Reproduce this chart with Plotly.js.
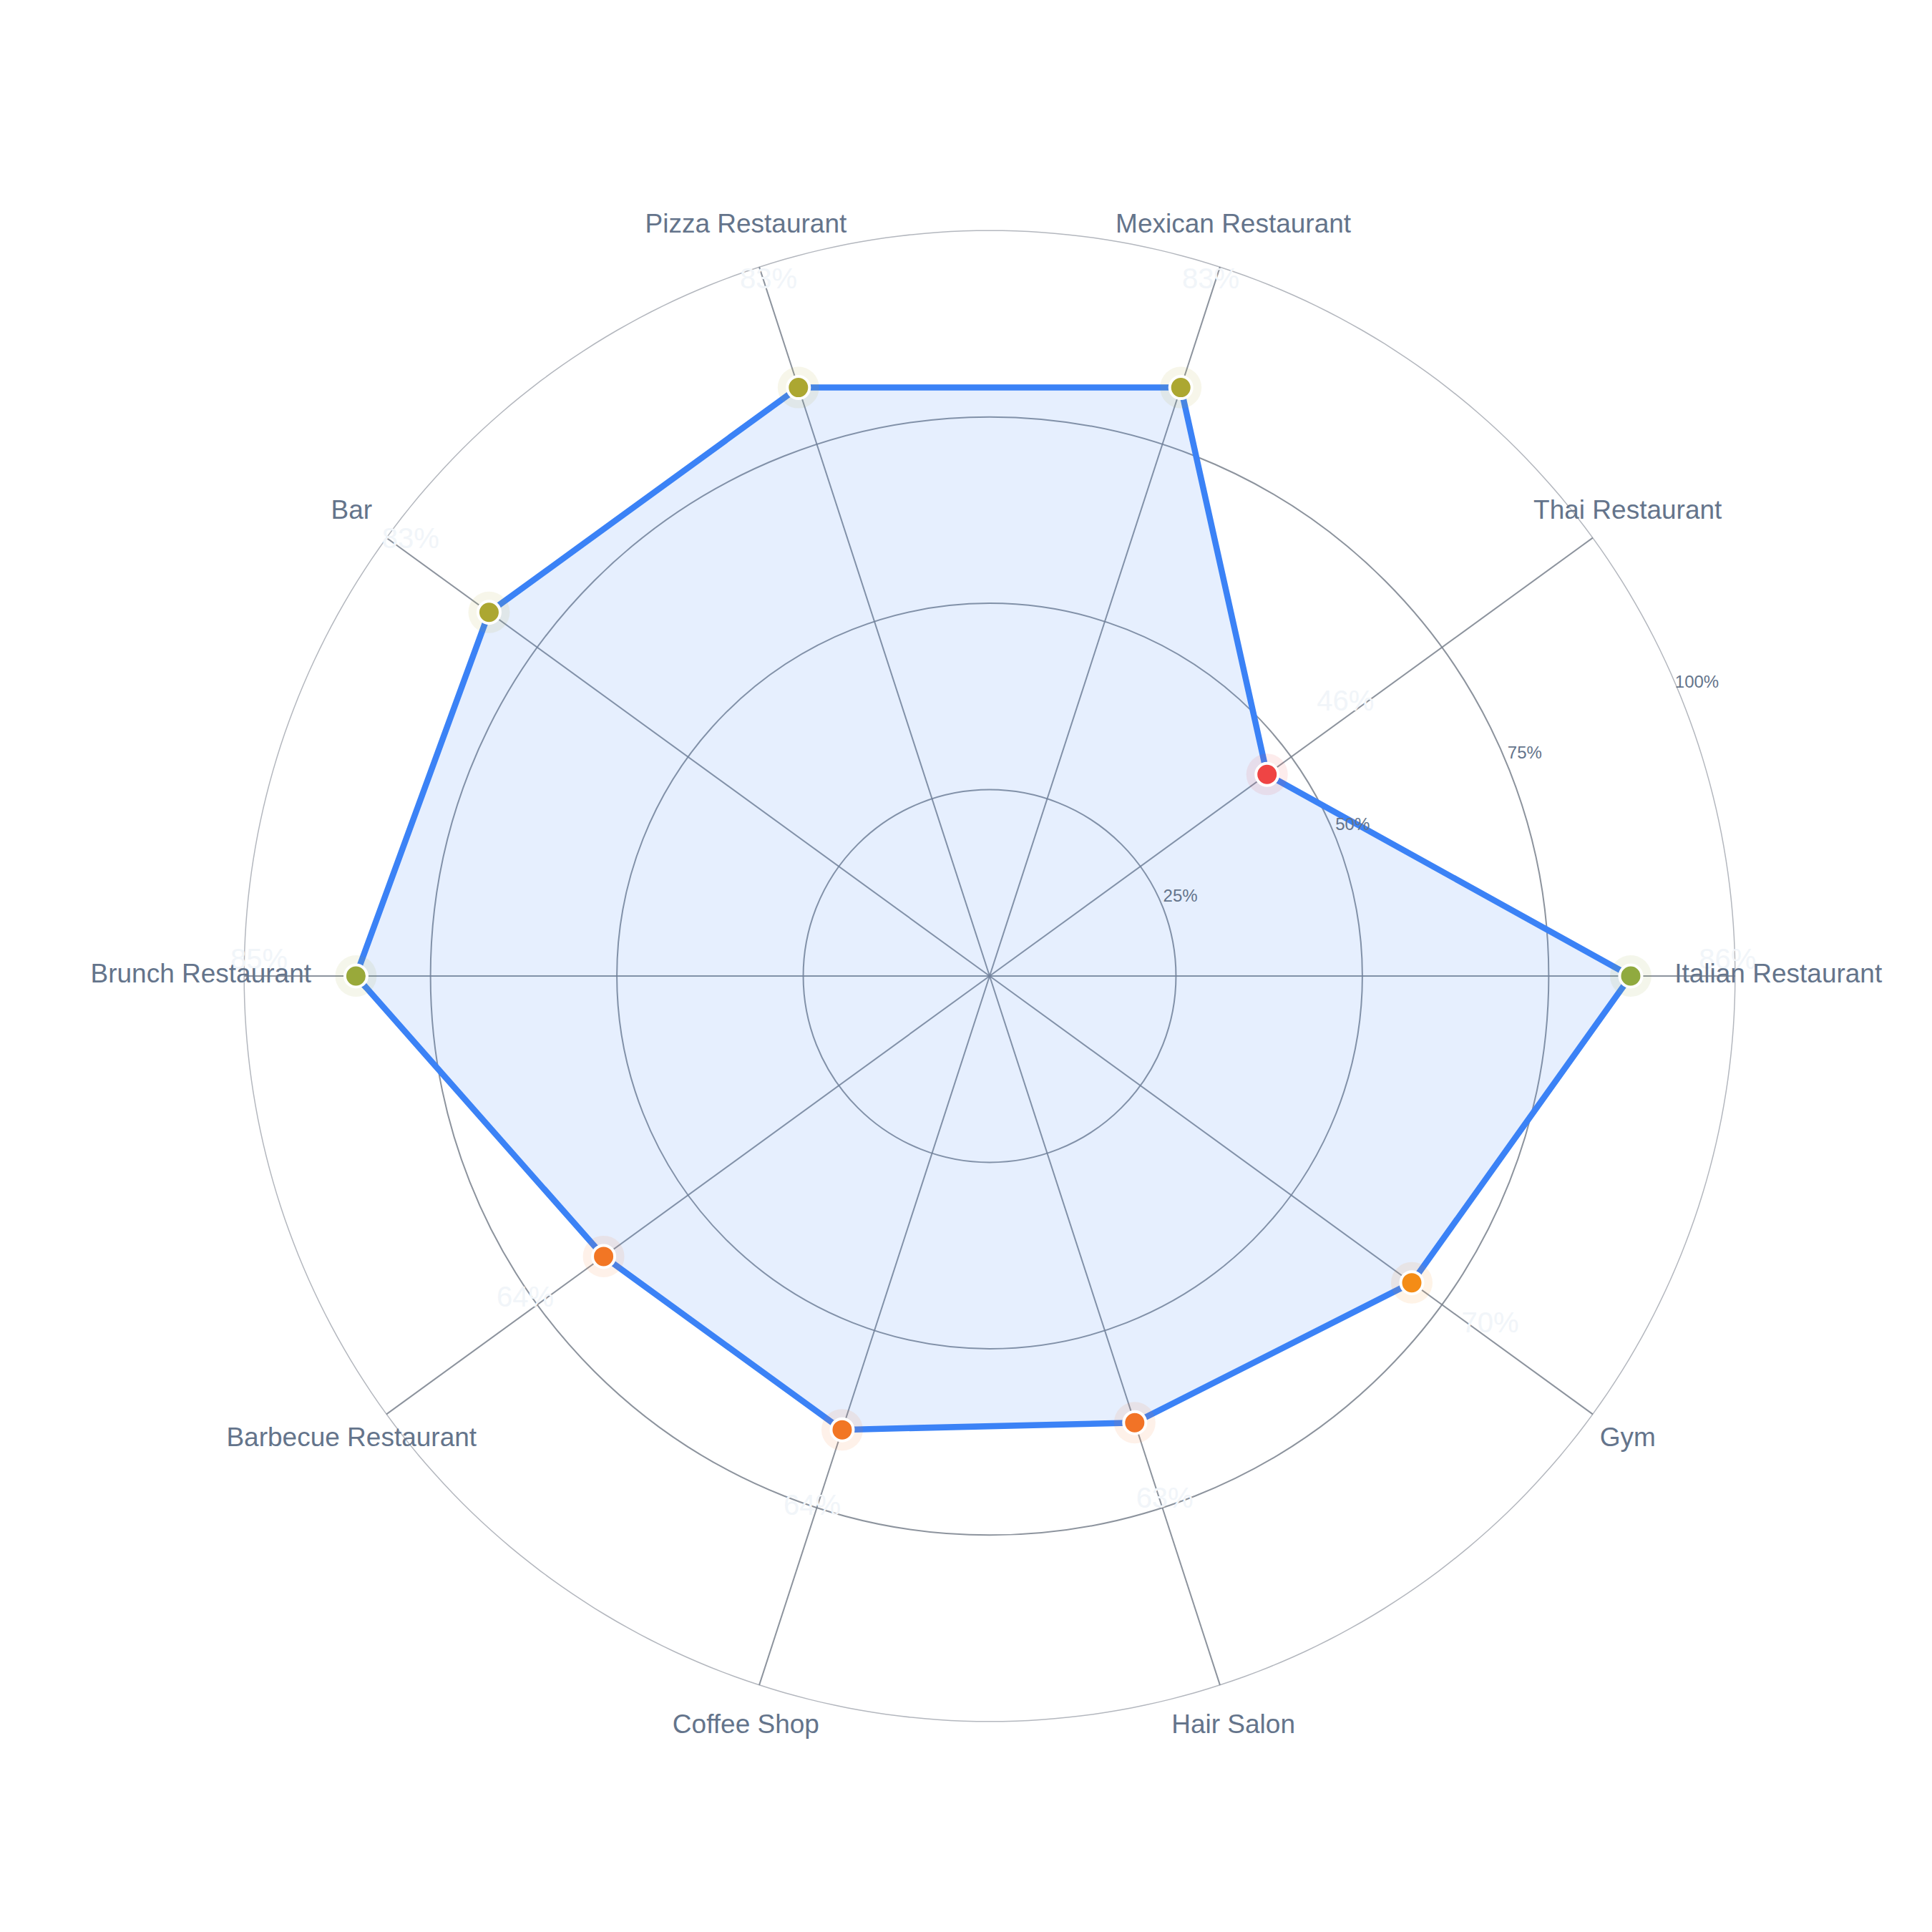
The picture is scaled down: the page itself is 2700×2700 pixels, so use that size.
<!DOCTYPE html>
<html>
<head>
<meta charset="utf-8">
<script src="https://cdn.plot.ly/plotly-3.0.1.min.js"></script>
<style>html,body{margin:0;padding:0;background:#fff;}#chart{width:2700px;height:2700px;}</style>
</head>
<body>
<div id="chart"></div>
<script>
const categories = ["Italian Restaurant","Thai Restaurant","Mexican Restaurant","Pizza Restaurant","Bar","Brunch Restaurant","Barbecue Restaurant","Coffee Shop","Hair Salon","Gym"];
const values = [86, 46, 83, 83, 83, 85, 64, 64, 63, 70];
const radialTicks = [25, 50, 75, 100];
const radialTickLabels = ["25%", "50%", "75%", "100%"];

const step = 360 / categories.length;
const theta = categories.map((c, i) => i * step);
const thetaClosed = theta.concat([theta[0]]);
const valuesClosed = values.concat([values[0]]);
const rMax = radialTicks[radialTicks.length - 1];

// grid helpers derived from the axis ticks / categories
const spokeR = [], spokeT = [];
theta.forEach(t => { spokeR.push(0, rMax, null); spokeT.push(t, t, null); });
const ringT = [], ringR = [];
for (let a = 0; a <= 360; a += 1) { ringT.push(a); ringR.push(rMax); }

const colorscale = [[0, '#ef4444'], [0.5, '#f59e0b'], [1, '#10b981']];
const FONT = '"Liberation Sans", Arial, Helvetica, sans-serif';
const GRID = 'rgba(120,128,140,0.85)';

const traces = [
  {
    type: 'scatterpolar', mode: 'lines', r: ringR, theta: ringT,
    line: {color: 'rgba(160,165,174,0.8)', width: 1.5}, hoverinfo: 'skip', showlegend: false
  },
  {
    type: 'scatterpolar', mode: 'lines', r: spokeR, theta: spokeT, connectgaps: false,
    line: {color: GRID, width: 2}, hoverinfo: 'skip', showlegend: false
  },
  {
    type: 'scatterpolar', mode: 'lines', r: valuesClosed, theta: thetaClosed,
    fill: 'toself', fillcolor: 'rgba(59,130,246,0.13)',
    line: {color: '#3b82f6', width: 8.5}, hoverinfo: 'skip', showlegend: false
  },
  {
    type: 'scatterpolar', mode: 'markers', r: values, theta: theta,
    marker: {size: 58, color: values, colorscale: colorscale, cmin: 50, cmax: 100, opacity: 0.1, line: {width: 0}},
    hoverinfo: 'skip', showlegend: false
  },
  {
    type: 'scatterpolar', mode: 'markers', r: values, theta: theta,
    marker: {size: 31, color: values, colorscale: colorscale, cmin: 50, cmax: 100, line: {color: '#ffffff', width: 4}},
    hoverinfo: 'skip', showlegend: false
  },
  {
    type: 'scatterpolar', mode: 'text', r: values.map(v => v + 13), theta: theta,
    text: values.map(v => v + '%'), textposition: 'top center', cliponaxis: false,
    textfont: {family: FONT, size: 40, color: '#f1f5f9'}, hoverinfo: 'skip', showlegend: false
  },
  {
    type: 'scatterpolar', mode: 'text', r: categories.map(() => 105.8), theta: theta,
    text: categories, textposition: 'middle center', cliponaxis: false,
    textfont: {family: FONT, size: 37, color: '#64748b'}, hoverinfo: 'skip', showlegend: false
  },
  {
    type: 'scatterpolar', mode: 'text', r: radialTicks.map(t => t + 2.7), theta: radialTicks.map(() => 22.5),
    text: radialTickLabels, textposition: 'middle center', cliponaxis: false,
    textfont: {family: FONT, size: 24, color: '#64748b'}, hoverinfo: 'skip', showlegend: false
  }
];

const layout = {
  width: 2700, height: 2700,
  margin: {l: 237, r: 171, t: 218, b: 190},
  paper_bgcolor: '#ffffff',
  font: {family: FONT, color: '#64748b'},
  showlegend: false,
  polar: {
    bgcolor: 'rgba(0,0,0,0)',
    radialaxis: {
      range: [0, 110], tickvals: [25, 50, 75], showticklabels: false, ticks: '',
      showline: false, gridcolor: GRID, gridwidth: 2
    },
    angularaxis: {
      type: 'linear', thetaunit: 'degrees', direction: 'counterclockwise', rotation: 0,
      tickvals: theta, showticklabels: false, ticks: '', showgrid: false, showline: false
    }
  }
};

Plotly.newPlot('chart', traces, layout, {staticPlot: true, displayModeBar: false});
</script>
</body>
</html>
